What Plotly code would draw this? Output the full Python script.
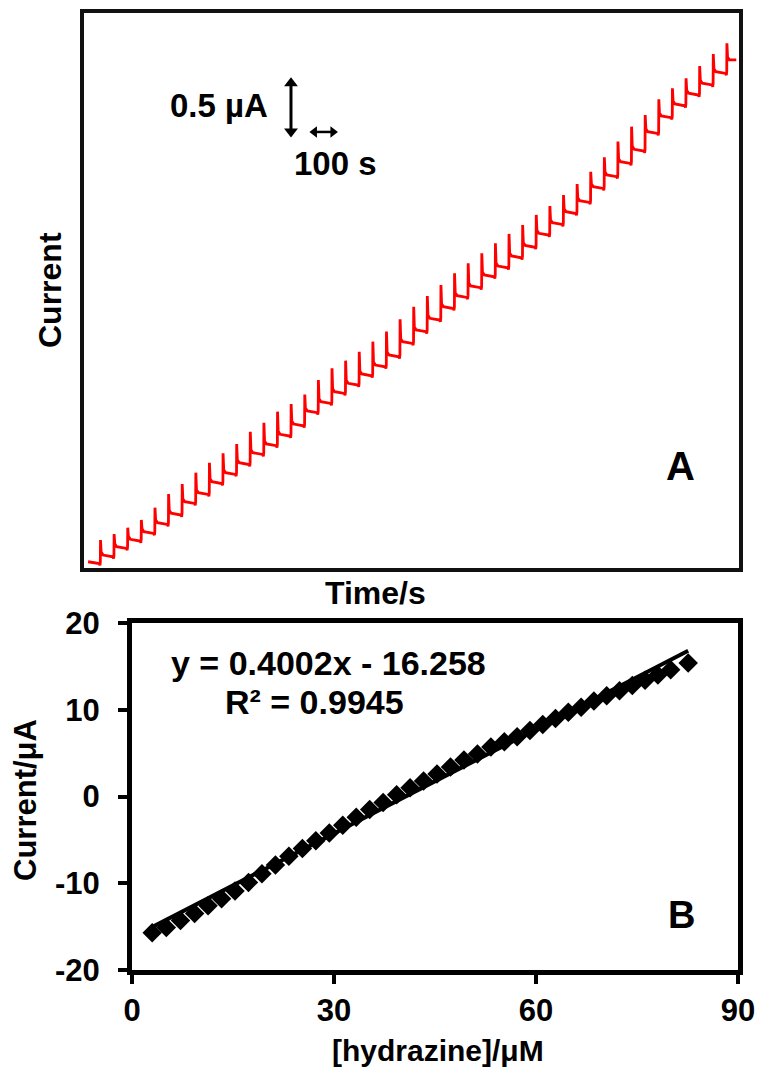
import plotly.graph_objects as go

# ---------------- Panel A: amperometric i-t response ----------------
# successive hydrazine additions, one every 50 s
addition_times_s = list(range(60, 2361, 50))
start_time_s = 15
end_time_s = 2395
start_current_uA = 1.053

# steady-state current reached after each addition (uA)
step_current_uA = [
    1.110, 1.181, 1.243, 1.308, 1.384, 1.464, 1.562, 1.638, 1.731, 1.808,
    1.892, 1.977, 2.051, 2.133, 2.220, 2.331, 2.409, 2.494, 2.565, 2.644,
    2.720, 2.805, 2.918, 3.017, 3.116, 3.214, 3.308, 3.390, 3.483, 3.559,
    3.644, 3.733, 3.836, 3.926, 4.019, 4.113, 4.231, 4.331, 4.443, 4.548,
    4.697, 4.831, 4.932, 5.023, 5.108, 5.206, 5.305,
]
# transient spike maximum at each addition (uA)
spike_current_uA = [
    1.237, 1.288, 1.342, 1.407, 1.511, 1.627, 1.712, 1.808, 1.892, 1.972,
    2.051, 2.155, 2.231, 2.325, 2.390, 2.470, 2.593, 2.692, 2.757, 2.833,
    2.918, 3.003, 3.108, 3.214, 3.305, 3.398, 3.497, 3.582, 3.667, 3.752,
    3.831, 3.907, 3.992, 4.068, 4.161, 4.254, 4.358, 4.481, 4.613, 4.740,
    4.839, 4.972, 5.065, 5.150, 5.254, 5.356, 5.447,
]

# scale bars drawn inside panel A (time in s, current in uA)
current_bar_t = 760
current_bar_uA = [4.653, 5.153]      # 0.5 uA
time_bar_s = [830, 930]              # 100 s
time_bar_uA = 4.695

# ---------------- Panel B: calibration plot ----------------
conc_uM = [
    3.0, 5.1, 7.2, 9.3, 11.3, 13.3, 15.3, 17.3, 19.3, 21.3,
    23.3, 25.3, 27.3, 29.3, 31.3, 33.3, 35.3, 37.3, 39.3, 41.3,
    43.3, 45.3, 47.3, 49.3, 51.3, 53.3, 55.3, 57.2, 59.1, 61.0,
    62.9, 64.8, 66.7, 68.6, 70.5, 72.4, 74.3, 76.2, 78.1, 80.0, 82.6,
]
current_uA = [
    -15.7, -15.1, -14.3, -13.5, -12.6, -11.8, -10.9, -9.9, -8.9, -7.9,
    -6.9, -6.0, -5.1, -4.2, -3.3, -2.4, -1.5, -0.7, 0.2, 1.0,
    1.8, 2.6, 3.4, 4.2, 4.9, 5.7, 6.3, 6.9, 7.6, 8.3,
    9.0, 9.7, 10.3, 11.0, 11.6, 12.2, 12.8, 13.4, 14.0, 14.6, 15.4,
]
fit_slope = 0.4002
fit_intercept = -16.258
fit_r2 = 0.9945

x_ticks = [0, 30, 60, 90]
y_ticks = [-20, -10, 0, 10, 20]
y_tick_text = ["-20", "-10", "0", "10", "20"]

# build the stepped i-t trace: small injection dip, sharp spike, new plateau
t_trace = [start_time_s]
i_trace = [start_current_uA]
prev = start_current_uA
for tk, peak, level in zip(addition_times_s, spike_current_uA, step_current_uA):
    t_trace += [tk - 4, tk - 1.5, tk, tk + 0.6, tk + 3, tk + 10]
    i_trace += [prev - 0.015, prev - 0.03, prev, peak, level + 0.025, level]
    prev = level
t_trace.append(end_time_s)
i_trace.append(prev)

fit_x = [min(conc_uM), max(conc_uM)]
fit_y = [fit_slope * v + fit_intercept for v in fit_x]

W, H = 759, 1072
FONT = "Liberation Sans, Arial, sans-serif"

fig = go.Figure()
fig.add_trace(go.Scatter(
    x=t_trace, y=i_trace, mode="lines",
    line=dict(color="#ff0000", width=2.8),
    xaxis="x", yaxis="y", showlegend=False, hoverinfo="skip",
))

# double-headed scale bars: shaft plus triangle heads whose tips sit on the bar ends
head_v = 0.045   # uA between tip and head centre (vertical bar)
head_h = 16      # s between tip and head centre (horizontal bar)
fig.add_trace(go.Scatter(
    x=[current_bar_t, current_bar_t],
    y=[current_bar_uA[0] + head_v, current_bar_uA[1] - head_v],
    mode="lines+markers", line=dict(color="black", width=3),
    marker=dict(symbol=["triangle-down", "triangle-up"], size=12, color="black"),
    xaxis="x", yaxis="y", showlegend=False, hoverinfo="skip",
))
fig.add_trace(go.Scatter(
    x=[time_bar_s[0] + head_h, time_bar_s[1] - head_h],
    y=[time_bar_uA, time_bar_uA],
    mode="lines+markers", line=dict(color="black", width=2.5),
    marker=dict(symbol=["triangle-left", "triangle-right"], size=10, color="black"),
    xaxis="x", yaxis="y", showlegend=False, hoverinfo="skip",
))

fig.add_trace(go.Scatter(
    x=conc_uM, y=current_uA, mode="markers",
    marker=dict(symbol="diamond", size=15, color="black", line=dict(width=0)),
    xaxis="x2", yaxis="y2", showlegend=False,
))
fig.add_trace(go.Scatter(
    x=fit_x, y=fit_y, mode="lines",
    line=dict(color="black", width=4),
    xaxis="x2", yaxis="y2", showlegend=False,
))

tick_font = dict(family=FONT, size=31, color="black", weight="bold")

fig.update_layout(
    width=W, height=H,
    margin=dict(l=0, r=0, t=0, b=0, autoexpand=False),
    paper_bgcolor="white", plot_bgcolor="white",
    showlegend=False,
    xaxis=dict(
        domain=[84 / W, 739 / W], range=[0, 2405], anchor="y", automargin=False,
        showline=True, mirror=True, linecolor="#111111", linewidth=4,
        showticklabels=False, ticks="", showgrid=False, zeroline=False,
    ),
    yaxis=dict(
        domain=[1 - 568 / H, 1 - 13 / H], range=[1.0, 5.703], anchor="x",
        automargin=False,
        showline=True, mirror=True, linecolor="#111111", linewidth=4,
        showticklabels=False, ticks="", showgrid=False, zeroline=False,
    ),
    xaxis2=dict(
        domain=[132 / W, 738 / W], range=[0, 90], anchor="y2", automargin=False,
        tickvals=x_ticks, ticks="outside", ticklen=9, tickwidth=4,
        tickcolor="black", showline=True, mirror=True, linecolor="black",
        linewidth=5, showgrid=False, zeroline=False, tickfont=tick_font,
    ),
    yaxis2=dict(
        domain=[1 - 970 / H, 1 - 623 / H], range=[-20, 20], anchor="x2",
        automargin=False,
        tickvals=y_ticks, ticktext=y_tick_text, ticks="outside", ticklen=9,
        tickwidth=4, tickcolor="black", showline=True, mirror=True,
        linecolor="black", linewidth=5, showgrid=False, zeroline=False,
        tickfont=tick_font, ticklabelstandoff=12,
    ),
)


def label(text, x, y, size, angle=0):
    fig.add_annotation(
        text=text, x=x / W, y=1 - y / H, xref="paper", yref="paper",
        xanchor="center", yanchor="middle", showarrow=False, textangle=angle,
        font=dict(family=FONT, size=size, color="black", weight="bold"),
    )


# axis titles and panel letters
label("Current", 50, 290, 32, angle=-90)
label("Time/s", 375, 593, 32)
label("Current/μA", 25, 800, 31, angle=-90)
label("[hydrazine]/μM", 438, 1050, 30)
label("A", 680, 466, 40)
label("B", 681, 915, 38)
label(f"y = {fit_slope}x - {abs(fit_intercept)}", 328, 663, 34)
label(f"R² = {fit_r2}", 314, 702, 34)
label("0.5 µA", 219, 106, 33)
label("100 s", 335, 163, 33)

fig.write_html("out.html")
